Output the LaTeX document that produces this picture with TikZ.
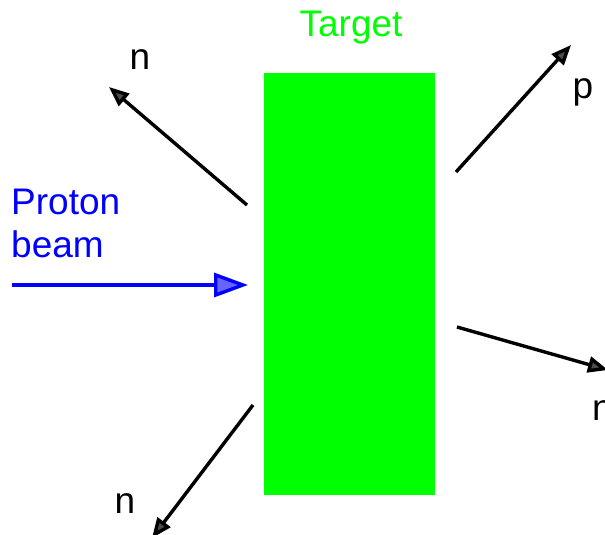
\documentclass[tikz,border=0pt]{standalone}
\usepackage{fontspec}
\setmainfont{Liberation Sans}
\usetikzlibrary{arrows.meta}
\definecolor{tgreen}{RGB}{0,255,0}
\definecolor{pblue}{RGB}{0,0,255}
\begin{document}
\begin{tikzpicture}[x=1pt,y=-1pt,
  lbl/.style={inner sep=0pt,font=\fontsize{37}{43}\selectfont},
  particle/.style={line width=3.4pt,draw=black,-{Triangle[length=20pt,width=16pt,fill=gray!60!black]}},
  beam/.style={line width=3.4pt,draw=pblue,-{Triangle[length=34pt,width=24pt,fill=pblue!60]}}]
\useasboundingbox (0,0) rectangle (605,535);
\clip (0,0) rectangle (605,535);
\node[fill=tgreen,minimum width=171pt,minimum height=422pt,inner sep=0pt] (target) at (349.5,284) {};
\node[lbl,text=tgreen,anchor=base] (tlabel) at (351,37) {Target};
\node[lbl,text=pblue,anchor=north west,align=left] (beamlabel) at (11,189) {Proton\\beam};
\node[lbl,anchor=base] (n1) at (140,70) {n};
\node[lbl,anchor=base] (p1) at (583,98) {p};
\node[lbl,anchor=base west] (n2) at (592,420) {n};
\node[lbl,anchor=base] (n3) at (125,513) {n};
\coordinate (bs) at (12,285);
\coordinate (be) at (248,285);
\coordinate (a1s) at (247,205);
\coordinate (a1e) at (109,87);
\coordinate (a2s) at (456,172);
\coordinate (a2e) at (571,45);
\coordinate (a3s) at (457,327);
\coordinate (a3e) at (608,370);
\coordinate (a4s) at (253,405);
\coordinate (a4e) at (152,538);
\draw[beam] (bs) -- (be);
\draw[particle] (a1s) -- (a1e);
\draw[particle] (a2s) -- (a2e);
\draw[particle] (a3s) -- (a3e);
\draw[particle] (a4s) -- (a4e);
\end{tikzpicture}
\end{document}
